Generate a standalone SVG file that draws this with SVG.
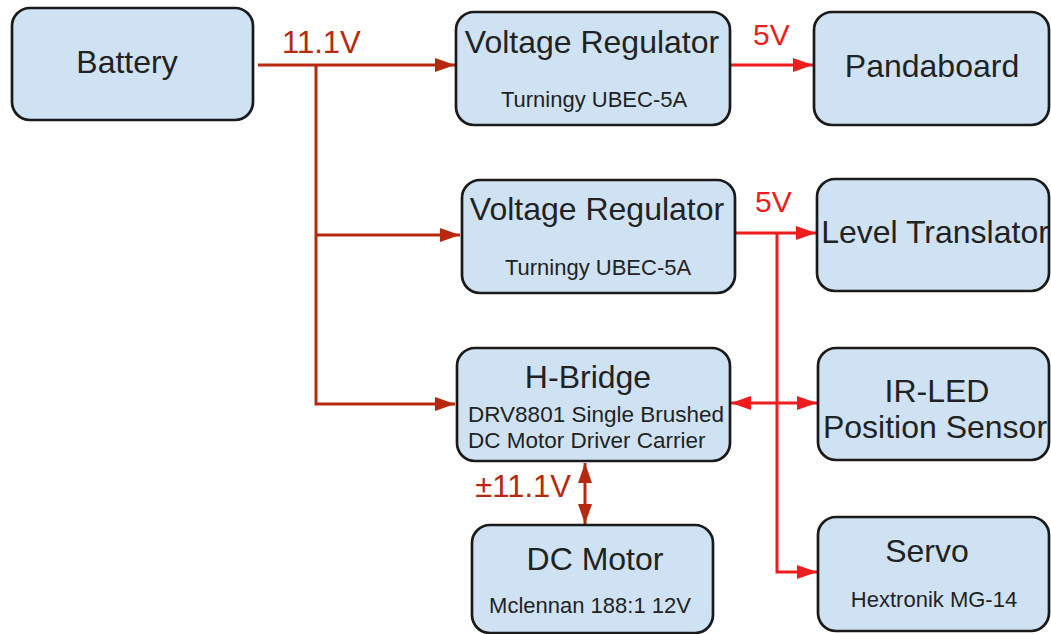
<svg xmlns="http://www.w3.org/2000/svg" width="1051" height="634" viewBox="0 0 1051 634">
<defs>
<style>
.box{fill:#cfe2f3;stroke:#1a1a1a;stroke-width:2.7}
.t{font-family:"Liberation Sans",Arial,sans-serif;font-size:32px;fill:#222;text-anchor:middle}
.s{font-family:"Liberation Sans",Arial,sans-serif;font-size:22px;fill:#222;text-anchor:middle}
.sl{font-family:"Liberation Sans",Arial,sans-serif;font-size:22.5px;fill:#222}
.dr{fill:none;stroke:#b7290f;stroke-width:3}
.br{fill:none;stroke:#ee1d1d;stroke-width:3}
.ldr{font-family:"Liberation Sans",Arial,sans-serif;font-size:31px;fill:#b7290f}
.lbr{font-family:"Liberation Sans",Arial,sans-serif;font-size:30px;fill:#ee1d1d}
</style>
<marker id="ad" markerUnits="userSpaceOnUse" markerWidth="21" markerHeight="14" refX="20" refY="7" orient="auto-start-reverse"><path d="M0,0 L20,7 L0,14 z" fill="#b7290f"/></marker>
<marker id="ab" markerUnits="userSpaceOnUse" markerWidth="21" markerHeight="14" refX="20" refY="7" orient="auto-start-reverse"><path d="M0,0 L20,7 L0,14 z" fill="#ee1d1d"/></marker>
</defs>
<g id="connectors">
<path class="dr" d="M258,65 H455" marker-end="url(#ad)"/>
<path class="dr" d="M316,65 V404 H455" marker-end="url(#ad)"/>
<path class="dr" d="M316,235 H460" marker-end="url(#ad)"/>
<path class="dr" d="M585,463 V524" marker-start="url(#ad)" marker-end="url(#ad)"/>
<path class="br" d="M730,65 H813" marker-end="url(#ab)"/>
<path class="br" d="M735,233 H816" marker-end="url(#ab)"/>
<path class="br" d="M777,233 V572 H817" marker-end="url(#ab)"/>
<path class="br" d="M731,403 H817" marker-start="url(#ab)" marker-end="url(#ab)"/>
<text class="ldr" x="282" y="53">11.1V</text>
<text class="lbr" x="753" y="45">5V</text>
<text class="lbr" x="755" y="212">5V</text>
<text class="ldr" x="571" y="497" text-anchor="end">±11.1V</text>
</g>
<g id="battery"><rect class="box" x="12" y="8" width="241" height="112" rx="18"/><text class="t" x="127" y="73">Battery</text></g>
<g id="vr1"><rect class="box" x="456" y="12" width="274" height="113" rx="18"/><text class="t" x="592" y="53">Voltage Regulator</text><text class="s" x="594" y="107">Turningy UBEC-5A</text></g>
<g id="pandaboard"><rect class="box" x="814" y="12" width="235" height="113" rx="18"/><text class="t" x="932" y="77">Pandaboard</text></g>
<g id="vr2"><rect class="box" x="462" y="180" width="273" height="113" rx="18"/><text class="t" x="597" y="220">Voltage Regulator</text><text class="s" x="598" y="275">Turningy UBEC-5A</text></g>
<g id="level"><rect class="box" x="817" y="179" width="232" height="112" rx="18"/><text class="t" x="935" y="243">Level Translator</text></g>
<g id="hbridge"><rect class="box" x="457" y="348" width="273" height="113" rx="18"/><text class="t" x="588" y="388">H-Bridge</text><text class="sl" x="468" y="422">DRV8801 Single Brushed</text><text class="sl" x="468" y="448">DC Motor Driver Carrier</text></g>
<g id="irled"><rect class="box" x="818" y="348" width="231" height="112" rx="18"/><text class="t" x="937" y="402">IR-LED</text><text class="t" x="935" y="438">Position Sensor</text></g>
<g id="dcmotor"><rect class="box" x="472" y="525" width="241" height="108" rx="18"/><text class="t" x="595" y="570">DC Motor</text><text class="s" x="590" y="613">Mclennan 188:1 12V</text></g>
<g id="servo"><rect class="box" x="818" y="517" width="231" height="114" rx="18"/><text class="t" x="927" y="562">Servo</text><text class="s" x="934" y="607">Hextronik MG-14</text></g>
</svg>
